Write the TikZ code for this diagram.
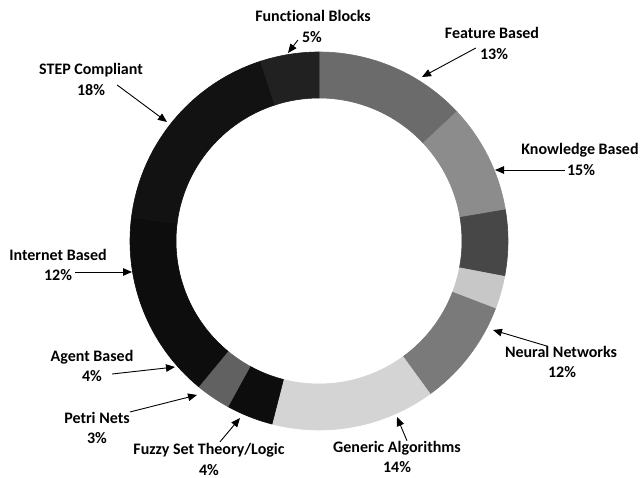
\documentclass[tikz,border=0pt]{standalone}
\usepackage{fontspec}
\setmainfont{Carlito}[Ligatures=NoCommon]
\usetikzlibrary{arrows.meta}
\begin{document}
\begin{tikzpicture}[x=1pt,y=-1pt,
  lbl/.style={inner sep=0pt,font=\fontsize{16}{20}\selectfont\bfseries},
  seg/.style={line width=0.6pt,line join=round},
  arr/.style={draw=black,line width=0.9pt,-{Triangle[length=9pt,width=7.5pt]}}]
\useasboundingbox (0,0) rectangle (643,478);
\fill[white] (0,0) rectangle (643,478);
% donut segments (angles in flipped system: visual angle negated)
\begin{scope}[shift={(319,241)}]
\foreach \a/\b/\c in {-90/-43.2/black!58, -43.2/-9.5/black!45, -9.5/10.8/black!72,
  10.8/21/black!22, 21/54/black!52, 54/104.4/black!17, 104.4/118.8/black!95,
  118.8/129.6/black!62, 129.6/144/black!95, 144/187.2/black!95,
  187.2/252/black!93, 252/270/black!87}
  \filldraw[seg,fill=\c,draw=\c] (\a:189) arc[start angle=\a, end angle=\b, radius=189]
    -- (\b:143) arc[start angle=\b, end angle=\a, radius=143] -- cycle;
\end{scope}
% labels
\node[lbl] (fbn) at (313,16) {Functional Blocks};
\node[lbl] (fbp) at (312,37) {5\%};
\node[lbl] (fen) at (492,33) {Feature Based};
\node[lbl] (fep) at (494,54) {13\%};
\node[lbl] (kbn) at (580,150) {Knowledge Based};
\node[lbl] (kbp) at (581,170) {15\%};
\node[lbl] (nnn) at (561,352) {Neural Networks};
\node[lbl] (nnp) at (562,372) {12\%};
\node[lbl] (gan) at (397,448) {Generic Algorithms};
\node[lbl] (gap) at (397,467) {14\%};
\node[lbl] (fzn) at (209,450) {Fuzzy Set Theory/Logic};
\node[lbl] (fzp) at (209,470) {4\%};
\node[lbl] (pnn) at (97,418) {Petri Nets};
\node[lbl] (pnp) at (97,438) {3\%};
\node[lbl] (abn) at (92,357) {Agent Based};
\node[lbl] (abp) at (92,376) {4\%};
\node[lbl] (ibn) at (58,255) {Internet Based};
\node[lbl] (ibp) at (58,275) {12\%};
\node[lbl] (stn) at (91,70) {STEP Compliant};
\node[lbl] (stp) at (91,90) {18\%};
% arrow tips on the ring
\coordinate (fbt) at (288,53);
\coordinate (fet) at (422,77);
\coordinate (kbt) at (495,170);
\coordinate (nnt) at (493,330);
\coordinate (gat) at (397,417);
\coordinate (fzt) at (240,418);
\coordinate (pnt) at (197,395);
\coordinate (abt) at (175,367);
\coordinate (ibt) at (132,272);
\coordinate (stt) at (167,122);
% connectors
\draw[arr] ([shift={(-4,3)}]fbp.west) -- (fbt);
\draw[arr] ([shift={(-4,-6)}]fep.west) -- (fet);
\draw[arr] ([shift={(-2,0)}]kbp.west) -- (kbt);
\draw[arr] ([shift={(-14,0)}]nnn.north) -- (nnt);
\draw[arr] ([shift={(10,0)}]gan.north) -- (gat);
\draw[arr] ([shift={(11,-1)}]fzn.north) -- (fzt);
\draw[arr] ([shift={(0,-6)}]pnn.east) -- (pnt);
\draw[arr] ([shift={(10,-2)}]abp.east) -- (abt);
\draw[arr] ([shift={(3,-3)}]ibp.east) -- (ibt);
\draw[arr] ([shift={(12,-5)}]stp.east) -- (stt);
\end{tikzpicture}
\end{document}
